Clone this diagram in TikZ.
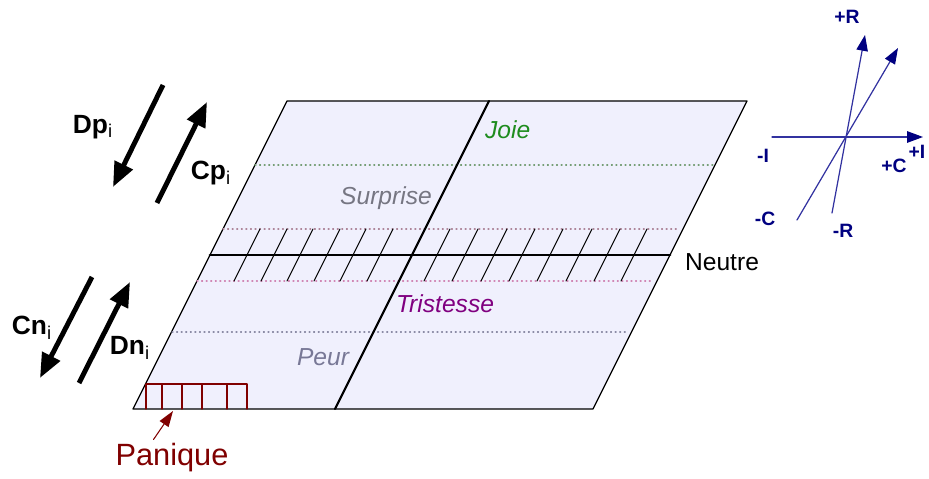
\documentclass[tikz,border=0pt]{standalone}
\usepackage{fontspec}
\setmainfont{Liberation Sans}
\usetikzlibrary{arrows.meta}
\definecolor{panel}{RGB}{240,240,253}
\definecolor{joiecol}{RGB}{30,140,30}
\definecolor{surpcol}{RGB}{118,118,130}
\definecolor{tristcol}{RGB}{128,0,128}
\definecolor{peurcol}{RGB}{120,120,150}
\definecolor{paniccol}{RGB}{128,0,0}
\definecolor{axiscol}{RGB}{0,0,128}
\definecolor{axisline}{RGB}{50,50,160}
\begin{document}
\begin{tikzpicture}[
      x=0.02cm, y=-0.02cm,
      line cap=round,
      line join=round,
      every node/.style={inner sep=1pt},
      zone/.style={font=\fontsize{14}{16}\selectfont\itshape},
      flux/.style={font=\fontsize{15}{17}\selectfont\bfseries},
      axlab/.style={font=\fontsize{11}{13}\selectfont\bfseries, text=axiscol},
      bigarrow/.style={line width=2.8pt, line cap=butt,
        -{Triangle[length=14pt, width=11pt]}},
      axarrow/.style={axisline, line width=0.7pt,
        -{Triangle[length=9pt, width=6.5pt, color=axiscol]}},
      level/.style={dotted, line width=0.6pt},
    ]
    \useasboundingbox (0,0) rectangle (929,479);
    %% Emotion plane (parallelogram).
    \coordinate (tl) at (287,101);
    \coordinate (tr) at (747,101);
    \coordinate (br) at (593,409);
    \coordinate (bl) at (133,409);
    \filldraw[fill=panel, draw=black, line width=0.7pt]
      (tl) -- (tr) -- (br) -- (bl) -- cycle;
    %% Dotted level lines.
    \draw[level, joiecol!45!gray!80!white]  (255,165) -- (713,165);
    \draw[level, surpcol!70!purple!70!white] (223,229) -- (679,229);
    \draw[level, tristcol!45!pink!80!white]  (197,281) -- (653,281);
    \draw[level, peurcol!85!white]           (172,332) -- (628,332);
    %% Hatching around the neutral line.
    \foreach \x in {260,287,313,340,366,393,450,478,507,535,563,592,620,647}
      \draw[black, line width=0.6pt] (\x,229) -- ({\x-26},281);
    %% Neutral line and middle divider.
    \draw[black, line width=1.6pt] (210,255) -- (670,255);
    \coordinate (mt) at (489,101);
    \coordinate (mb) at (335,409);
    \draw[black, line width=1.2pt] (mt) -- (mb);
    %% Panic zone.
    \draw[paniccol, line width=0.6pt] (146,384) -- (247,384) -- (247,409);
    \foreach \x in {146,162,182,202,227}
      \draw[paniccol, line width=0.6pt] (\x,384) -- (\x,409);
    %% Zone labels.
    \node[zone, text=joiecol, anchor=west] (joie) at (483,130) {Joie};
    \node[zone, text=surpcol]   (surprise)  at (386,198) {Surprise};
    \node[zone, text=tristcol]  (tristesse) at (445,304) {Tristesse};
    \node[zone, text=peurcol]   (peur)      at (323,357) {Peur};
    \node[font=\fontsize{14}{16}\selectfont, anchor=west] (neutre)
      at (683,262) {Neutre};
    \node[font=\fontsize{17.5}{20}\selectfont, text=paniccol] (panique)
      at (172,458) {Panique};
    \coordinate (pz) at (173,411);
    \draw[paniccol, line width=0.6pt,
      -{Triangle[length=9pt, width=6pt]}] (panique.north west) ++(40,-2) -- (pz);
    %% Flux arrows.
    \coordinate (dp1) at (163,85);  \coordinate (dp2) at (113,187);
    \coordinate (cp1) at (157,203); \coordinate (cp2) at (207,102);
    \coordinate (cn1) at (92,277);  \coordinate (cn2) at (40,378);
    \coordinate (dn1) at (79,383);  \coordinate (dn2) at (130,282);
    \draw[bigarrow] (dp1) -- (dp2);
    \draw[bigarrow] (cp1) -- (cp2);
    \draw[bigarrow] (cn1) -- (cn2);
    \draw[bigarrow] (dn1) -- (dn2);
    \node[flux] (dp) at (93,127) {Dp\textsubscript{\mdseries i}};
    \node[flux] (cp) at (211,173) {Cp\textsubscript{\mdseries i}};
    \node[flux] (cn) at (32,328) {Cn\textsubscript{\mdseries i}};
    \node[flux] (dn) at (130,348) {Dn\textsubscript{\mdseries i}};
    %% Axes.
    \coordinate (o) at (847,136);
    \coordinate (iminus) at (772,137); \coordinate (iplus) at (923,137);
    \coordinate (rminus) at (832,213); \coordinate (rplus) at (865,35);
    \coordinate (cminus) at (797,220); \coordinate (cplus) at (898,48);
    \draw[axarrow] (iminus) -- (iplus);
    \draw[axarrow] (rminus) -- (rplus);
    \draw[axarrow] (cminus) -- (cplus);
    \node[axlab] (rp) at (847,17)  {+R};
    \node[axlab] (im) at (763,156) {-I};
    \node[axlab] (ip) at (917,152) {+I};
    \node[axlab] (cpl) at (894,166) {+C};
    \node[axlab] (cm) at (765,219) {-C};
    \node[axlab] (rm) at (843,231) {-R};
  \end{tikzpicture}
\end{document}
